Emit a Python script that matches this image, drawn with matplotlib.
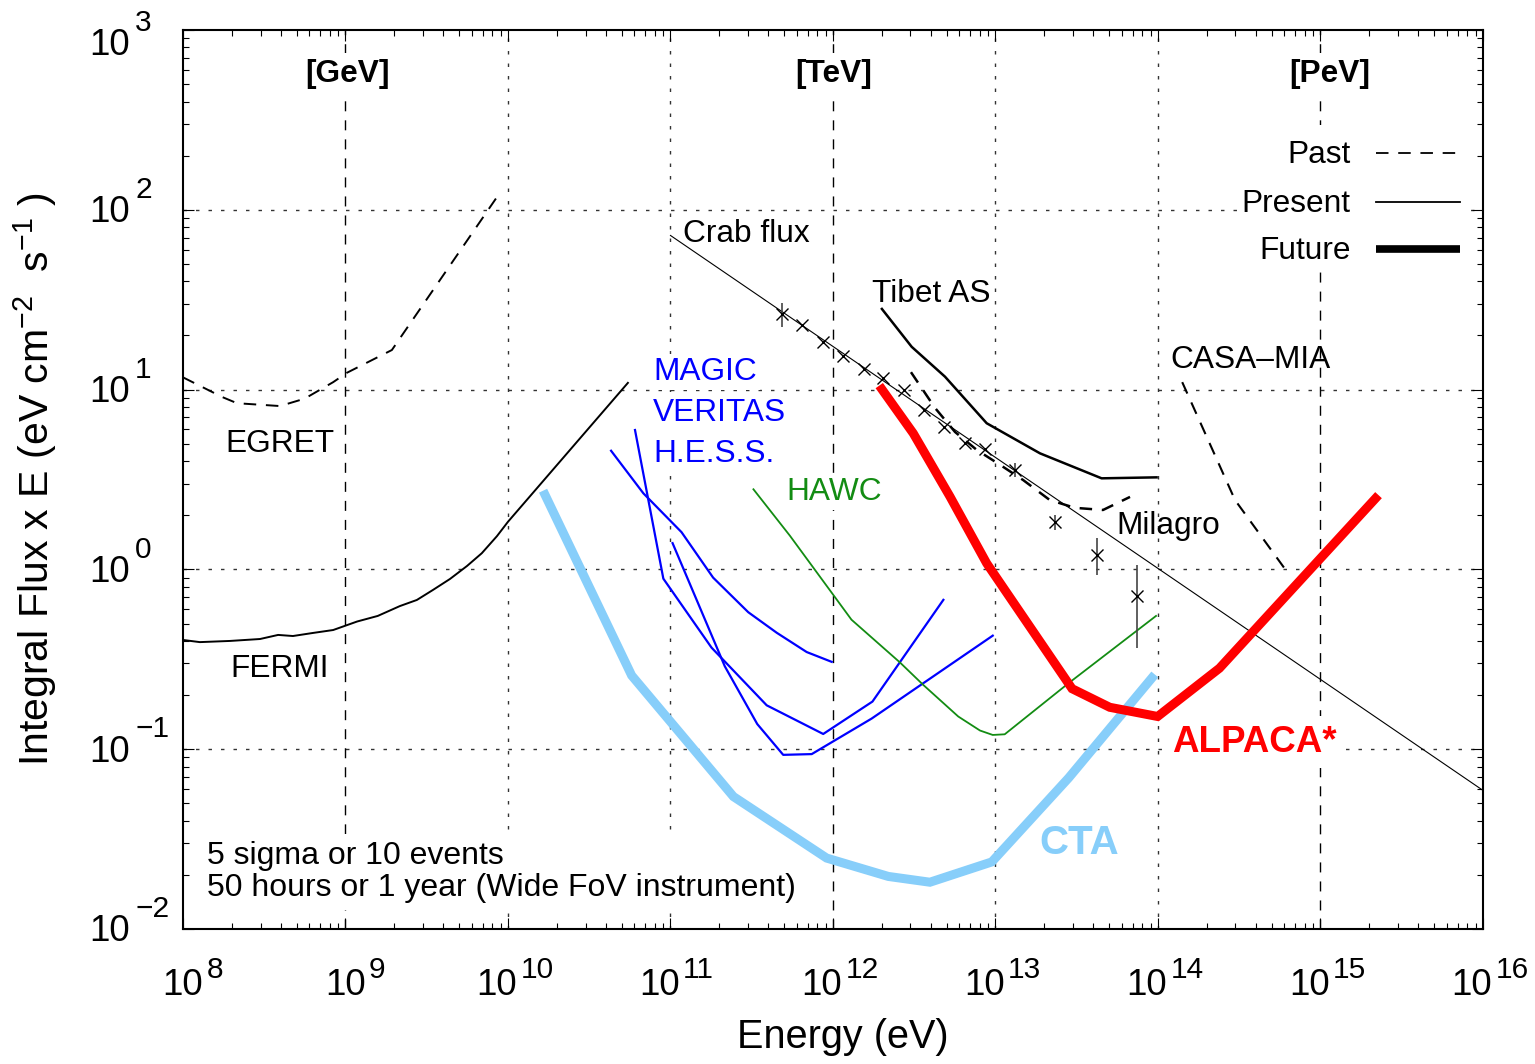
import numpy as np
import matplotlib.pyplot as plt
from matplotlib.ticker import LogLocator, NullFormatter
from matplotlib.lines import Line2D
from matplotlib.patches import Rectangle

plt.rcParams['font.family'] = ['Liberation Sans', 'DejaVu Sans']
plt.rcParams['mathtext.fontset'] = 'custom'
plt.rcParams['mathtext.rm'] = 'Liberation Sans'
plt.rcParams['mathtext.it'] = 'Liberation Sans:italic'
plt.rcParams['mathtext.bf'] = 'Liberation Sans:bold'
plt.rcParams['lines.scale_dashes'] = False

# energy in eV, integral flux x E in eV cm^-2 s^-1
egret_e = [1.0e8, 1.74e8, 2.15e8, 3.95e8, 5.6e8, 8.4e8, 1.02e9, 1.93e9, 8.9e9]
egret_f = [11.7, 9.1, 8.4, 8.1, 8.9, 11.0, 12.4, 16.6, 124]

fermi_e = [1.0e8, 1.27e8, 1.95e8, 2.98e8, 3.85e8, 4.75e8, 6.3e8, 8.4e8, 1.18e9, 1.58e9,
           2.16e9, 2.75e9, 3.45e9, 4.4e9, 5.6e9, 6.9e9, 8.55e9, 1.0e10, 5.47e10]
fermi_f = [0.405, 0.394, 0.40, 0.41, 0.432, 0.426, 0.443, 0.46, 0.513, 0.551,
           0.625, 0.676, 0.768, 0.885, 1.045, 1.23, 1.53, 1.84, 10.9]

crabline_e = [1e11, 1e16]
crabline_f = [72, 0.059]

crab_e = [4.83e11, 6.41e11, 8.65e11, 1.157e12, 1.55e12, 2.04e12, 2.74e12, 3.63e12,
          4.82e12, 6.49e12, 8.61e12, 1.318e13, 2.34e13, 4.20e13, 7.40e13]
crab_f = [26.3, 22.9, 18.5, 15.4, 13.1, 11.6, 10.0, 7.7, 6.22, 5.03, 4.67, 3.57, 1.83, 1.20, 0.711]
crab_lo = [22.3, 22.9, 18.5, 15.4, 13.1, 11.6, 10.0, 7.7, 6.22, 5.03, 4.67, 3.27, 1.66, 0.931, 0.366]
crab_hi = [30.3, 22.9, 18.5, 15.4, 13.1, 11.6, 10.0, 7.7, 6.22, 5.03, 4.67, 3.91, 2.01, 1.495, 1.058]

tibet_e = [2.0e12, 3.05e12, 4.89e12, 8.83e12, 1.88e13, 4.50e13, 9.8e13]
tibet_f = [28.1, 17.3, 11.8, 6.5, 4.42, 3.21, 3.25]

milagro_e = [3.02e12, 4.25e12, 5.64e12, 7.69e12, 1.07e13, 1.48e13, 2.16e13, 3.08e13, 4.59e13, 6.73e13]
milagro_f = [12.5, 7.9, 5.81, 4.61, 3.81, 3.14, 2.43, 2.20, 2.14, 2.53]

casa_e = [1.41e14, 2.98e14, 6.05e14]
casa_f = [11.0, 2.43, 1.005]

iact1_e = [6.05e10, 9.04e10, 1.79e11, 3.91e11, 8.71e11, 1.75e12, 4.78e12]
iact1_f = [5.96, 0.888, 0.367, 0.1754, 0.1215, 0.184, 0.677]
iact2_e = [4.31e10, 6.81e10, 1.17e11, 1.83e11, 3.01e11, 4.51e11, 6.89e11, 9.82e11]
iact2_f = [4.57, 2.65, 1.61, 0.90, 0.578, 0.444, 0.347, 0.306]
iact3_e = [1.03e11, 2.16e11, 3.42e11, 4.94e11, 7.40e11, 1.73e12, 9.62e12]
iact3_f = [1.40, 0.289, 0.138, 0.093, 0.0939, 0.148, 0.428]

hawc_e = [3.24e11, 5.43e11, 1.30e12, 2.58e12, 3.59e12, 5.90e12, 8.03e12, 9.62e12, 1.14e13, 2.82e13, 9.73e13]
hawc_f = [2.79, 1.54, 0.525, 0.304, 0.228, 0.152, 0.127, 0.120, 0.121, 0.233, 0.551]

cta_e = [1.69e10, 5.77e10, 2.44e11, 9.14e11, 2.19e12, 3.95e12, 9.49e12, 2.82e13, 9.18e13]
cta_f = [2.60, 0.257, 0.0545, 0.0248, 0.0196, 0.0182, 0.0236, 0.0692, 0.249]

alpaca_e = [2.0e12, 3.12e12, 5.25e12, 8.83e12, 2.96e13, 5.05e13, 9.95e13, 2.39e14, 2.18e15]
alpaca_f = [10.04, 5.71, 2.54, 1.081, 0.217, 0.171, 0.152, 0.282, 2.48]

xexp = [8, 9, 10, 11, 12, 13, 14, 15, 16]
yexp = [-2, -1, 0, 1, 2, 3]

fig = plt.figure(figsize=(15.35, 10.64), dpi=100)
ax = fig.add_axes([0.1192, 0.1269, 0.8469, 0.8449])
ax.set_xscale('log')
ax.set_yscale('log')
ax.set_xlim(1e8, 1e16)
ax.set_ylim(1e-2, 1e3)

# grid
dot = (0, (2.5, 6.5))
dash = (0, (7.2, 6.5))
for y in [1e-1, 1e0, 1e1, 1e2]:
    ax.axhline(y, color='#333333', lw=1.0, ls=dot, zorder=0.5)
for x in [1e10, 1e11, 1e13, 1e14]:
    ax.axvline(x, color='#333333', lw=1.0, ls=dot, zorder=0.5)
for x in [1e9, 1e12, 1e15]:
    ax.axvline(x, color='black', lw=1.0, ls=dash, zorder=0.5)

past = (0, (9, 7))
ax.plot(egret_e, egret_f, color='black', lw=1.4, ls=past, zorder=3)
ax.plot(fermi_e, fermi_f, color='black', lw=1.4, zorder=3)
ax.plot(crabline_e, crabline_f, color='black', lw=0.8, zorder=3)
ax.errorbar(crab_e, crab_f,
            yerr=[np.array(crab_f) - np.array(crab_lo), np.array(crab_hi) - np.array(crab_f)],
            fmt='x', color='black', ecolor='#444444', elinewidth=1.2, ms=9, mew=1.0,
            capsize=0, zorder=4)
ax.plot(tibet_e, tibet_f, color='black', lw=1.8, zorder=3)
ax.plot(milagro_e, milagro_f, color='black', lw=1.8, ls=past, zorder=3)
ax.plot(casa_e, casa_f, color='black', lw=1.5, ls=past, zorder=3)
for e, f in [(iact1_e, iact1_f), (iact2_e, iact2_f), (iact3_e, iact3_f)]:
    ax.plot(e, f, color='#0000ff', lw=1.6, zorder=3)
ax.plot(hawc_e, hawc_f, color='#138c13', lw=1.3, zorder=3)
ax.plot(cta_e, cta_f, color='#87cefa', lw=6.5, zorder=3, solid_joinstyle='miter')
ax.plot(alpaca_e, alpaca_f, color='#ff0000', lw=6.5, zorder=3, solid_joinstyle='miter')

# ticks
ax.set_xticks([10.0 ** k for k in xexp])
ax.set_yticks([10.0 ** k for k in yexp])
ax.xaxis.set_minor_locator(LogLocator(base=10, subs=np.arange(2, 10), numticks=100))
ax.yaxis.set_minor_locator(LogLocator(base=10, subs=np.arange(2, 10), numticks=100))
ax.xaxis.set_minor_formatter(NullFormatter())
ax.yaxis.set_minor_formatter(NullFormatter())
ax.tick_params(which='both', direction='in', top=True, right=True, width=0.8,
               labelbottom=False, labelleft=False)
ax.tick_params(which='major', length=8)
ax.tick_params(which='minor', length=4.5)
for s in ax.spines.values():
    s.set_linewidth(1.5)

# tick labels: "10" with a large exponent (offsets in points)
base_fs, exp_fs = 26.5, 21.5
for k in xexp:
    dx = 14.4 if k < 10 else 6.5
    ax.annotate('10', xy=(10.0 ** k, 0), xycoords=('data', 'axes fraction'),
                xytext=(dx, -47.5), textcoords='offset points', ha='right', va='baseline',
                fontsize=base_fs, annotation_clip=False)
    ax.annotate(str(k), xy=(10.0 ** k, 0), xycoords=('data', 'axes fraction'),
                xytext=(dx + 2.5, -35), textcoords='offset points', ha='left', va='baseline',
                fontsize=exp_fs, annotation_clip=False)
for k in yexp:
    dy = -18 if k == 3 else -9
    ax.annotate('10', xy=(0, 10.0 ** k), xycoords=('axes fraction', 'data'),
                xytext=(-67.5, dy), textcoords='offset points', ha='left', va='baseline',
                fontsize=base_fs, annotation_clip=False)
    ax.annotate(str(k).replace('-', '\u2212'), xy=(0, 10.0 ** k), xycoords=('axes fraction', 'data'),
                xytext=(-34.5, dy + 17.5), textcoords='offset points', ha='left', va='baseline',
                fontsize=exp_fs, annotation_clip=False)

ax.set_xlabel('Energy (eV)', fontsize=28.5)
ax.xaxis.set_label_coords(0.5077, -0.099)
ax.set_ylabel('Integral Flux x E (eV cm$^{-2}$  s$^{-1}$ )', fontsize=29.5)
ax.yaxis.set_label_coords(-0.095, 0.5)

# labels
wb = dict(facecolor='white', edgecolor='none', pad=4)
T = ax.transAxes
fs = 22.8
for xf, s in [(0.1269, '[GeV]'), (0.5006, '[TeV]'), (0.8823, '[PeV]')]:
    ax.text(xf, 0.9422, s, transform=T, ha='center', va='baseline', fontsize=fs,
            fontweight='bold', bbox=wb, zorder=1)
ax.text(0.3849, 0.7645, 'Crab flux', transform=T, va='baseline', fontsize=fs, zorder=5)
ax.text(0.5297, 0.6978, 'Tibet AS', transform=T, va='baseline', fontsize=fs, zorder=5)
for yf, s in [(0.6107, 'MAGIC'), (0.5654, 'VERITAS'), (0.5198, 'H.E.S.S.')]:
    ax.text(0.3618, yf, s, transform=T, va='baseline', fontsize=fs, color='#0000ff',
            bbox=dict(facecolor='white', edgecolor='none', pad=2), zorder=1)
ax.text(0.4638, 0.4772, 'HAWC', transform=T, va='baseline', fontsize=fs, color='#138c13',
        bbox=dict(facecolor='white', edgecolor='none', pad=2), zorder=1)
ax.text(0.0323, 0.5309, 'EGRET', transform=T, va='baseline', fontsize=fs, zorder=5)
ax.text(0.0362, 0.2799, 'FERMI', transform=T, va='baseline', fontsize=fs, zorder=5)
ax.text(0.7598, 0.6237, 'CASA\u2013MIA', transform=T, va='baseline', fontsize=fs, zorder=5)
ax.text(0.7182, 0.4394, 'Milagro', transform=T, va='baseline', fontsize=fs, zorder=5)
ax.text(0.7605, 0.1972, 'ALPACA*', transform=T, va='baseline', fontsize=26.5, color='#ff0000',
        fontweight='bold', bbox=dict(facecolor='white', edgecolor='none', pad=6), zorder=1)
ax.text(0.6587, 0.0834, 'CTA', transform=T, va='baseline', fontsize=29, color='#87cefa',
        fontweight='bold', zorder=5)
ax.text(0.0187, 0.0363, '5 sigma or 10 events\n50 hours or 1 year (Wide FoV instrument)',
        transform=T, va='baseline', fontsize=23.0, linespacing=1.12,
        bbox=dict(facecolor='white', edgecolor='none', pad=5), zorder=1)

# key
ax.add_patch(Rectangle((0.8131, 0.7319), 0.1738, 0.1624, transform=T,
                       facecolor='white', edgecolor='none', zorder=1))
for yf, s, kw in [(0.8517, 'Past', dict(lw=1.3, ls=past)),
                  (0.7979, 'Present', dict(lw=1.3)),
                  (0.7449, 'Future', dict(lw=5.5, solid_capstyle='butt'))]:
    ax.text(0.8981, yf, s, transform=T, ha='right', va='baseline', fontsize=fs, zorder=5)
    ax.add_line(Line2D([0.9178, 0.9825], [yf + 0.011, yf + 0.011], transform=T,
                       color='black', zorder=5, **kw))

fig.savefig('out.png', dpi=100)
